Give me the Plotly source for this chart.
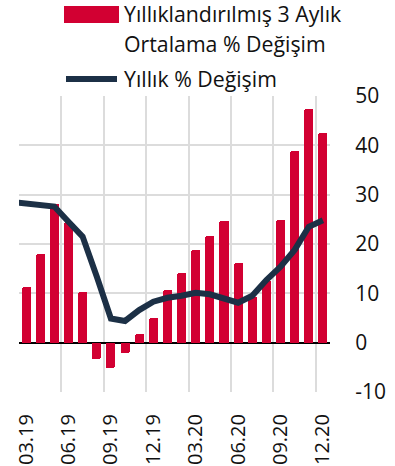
import plotly.graph_objects as go

# Monthly categories shown on the x axis
months = ["03.19", "04.19", "05.19", "06.19", "07.19", "08.19", "09.19", "10.19",
          "11.19", "12.19", "01.20", "02.20", "03.20", "04.20", "05.20", "06.20",
          "07.20", "08.20", "09.20", "10.20", "11.20", "12.20"]

# Annualised 3-month average % change (bars)
avg3m_change = [11.2, 17.9, 28.1, 24.4, 10.3, -3.4, -5.1, -2.0, 1.8, 5.0, 10.6,
                14.1, 18.7, 21.7, 24.6, 16.2, 9.3, 12.4, 24.8, 38.8, 47.3, 42.6]

# Annual % change (line); the series starts one month earlier (02.19)
yoy_lead = 28.5
yoy_change = [28.2, 28.1, 27.6, 24.5, 21.5, 13.4, 4.9, 4.4, 6.6, 8.3, 9.1,
              9.5, 10.1, 9.8, 8.9, 8.1, 9.5, 12.7, 15.4, 18.8, 23.5, 24.8]

label_step = 3
y_ticks = [-10, 0, 10, 20, 30, 40, 50]
y_ticktext = ["-10", "0", "10", "20", "30", "40", "50"]

legend_bar = ["Yıllıklandırılmış 3 Aylık", "Ortalama % Değişim"]
legend_line = "Yıllık % Değişim"

RED = "#d20032"
NAVY = "#1c3046"
GRID = "#dcdcdc"
FONT = "Open Sans"
TEXT = "#111111"

n = len(months)
idx = list(range(n))

fig = go.Figure()
fig.add_trace(go.Bar(
    x=idx, y=avg3m_change, marker=dict(color=RED, line=dict(width=0), cornerradius=2),
    width=0.64, showlegend=False, hoverinfo="skip",
))
fig.add_trace(go.Scatter(
    x=[-1] + idx, y=[yoy_lead] + yoy_change, mode="lines",
    line=dict(color=NAVY, width=6), showlegend=False, hoverinfo="skip",
))

# plot area in pixels
W, H = 395, 466
L, R, T, B = 19, 65, 96, 74
pw, ph = W - L - R, H - T - B


def px(x):
    return (x - L) / pw


def py(y):
    return (H - B - y) / ph


fig.update_layout(
    width=W, height=H,
    margin=dict(l=L, r=R, t=T, b=B, pad=0, autoexpand=False),
    paper_bgcolor="white", plot_bgcolor="white",
    font=dict(family=FONT, size=20, color=TEXT),
    bargap=0,
    showlegend=False,
    xaxis=dict(
        range=[-0.5, n - 0.5],
        automargin=False,
        tickmode="array",
        tickvals=idx[::label_step],
        ticktext=months[::label_step],
        tickangle=-90,
        ticks="outside", ticklen=13, tickcolor="rgba(0,0,0,0)",
        showgrid=False, zeroline=False, showline=False,
        tickfont=dict(size=20),
        minor=dict(
            tickmode="array",
            tickvals=[i - 0.5 for i in idx[::label_step]],
            showgrid=True, gridcolor=GRID, gridwidth=1.5, ticks="",
        ),
    ),
    yaxis=dict(
        side="right",
        range=[-10, 50],
        automargin=False,
        tickmode="array", tickvals=y_ticks, ticktext=y_ticktext,
        showgrid=True, gridcolor=GRID, gridwidth=1.5,
        zeroline=True, zerolinecolor="#000000", zerolinewidth=1.5,
        ticks="outside", ticklen=20, tickcolor="rgba(0,0,0,0)",
        showline=False,
        tickfont=dict(size=21),
    ),
)

# legend drawn by hand: wide swatches with wrapped text
shapes = [
    dict(type="rect", xref="paper", yref="paper",
         x0=px(64), x1=px(119), y0=py(23), y1=py(6),
         fillcolor=RED, line=dict(width=0)),
    dict(type="line", xref="paper", yref="paper",
         x0=px(66), x1=px(117), y0=py(79), y1=py(79),
         line=dict(color=NAVY, width=6)),
]
fig.update_layout(shapes=shapes)

anns = []
for text, ymid in [(legend_bar[0], 13.5), (legend_bar[1], 43), (legend_line, 78.5)]:
    anns.append(dict(
        x=px(122), y=py(ymid), xref="paper", yref="paper",
        xanchor="left", yanchor="middle", showarrow=False,
        text=text, font=dict(family=FONT, size=21.3, color=TEXT),
    ))
fig.update_layout(annotations=anns)

fig.write_html("out.html")
